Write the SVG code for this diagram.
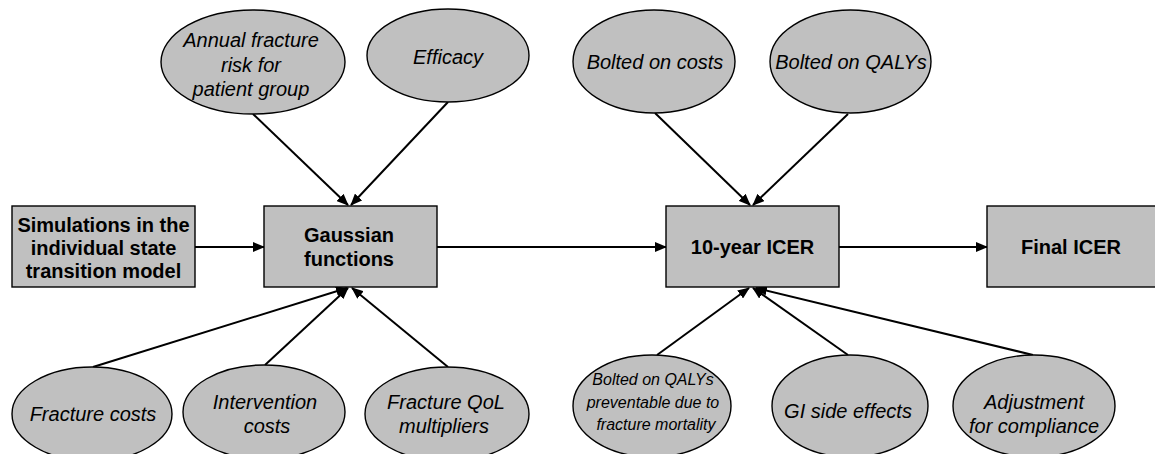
<svg xmlns="http://www.w3.org/2000/svg" width="1155" height="454" viewBox="0 0 1155 454">
<style>
.n{fill:#c0c0c0;stroke:#000;stroke-width:1.4}
.t{font-family:"Liberation Sans",Arial,sans-serif;font-size:20px;font-style:italic;fill:#000;text-anchor:middle}
.s{font-size:16px}
.b{font-family:"Liberation Sans",Arial,sans-serif;font-size:20px;font-weight:bold;fill:#000;text-anchor:middle}
.c{stroke:#000;stroke-width:2;fill:none;marker-end:url(#ah)}
</style>
<defs>
<marker id="ah" markerUnits="userSpaceOnUse" markerWidth="12" markerHeight="10" refX="11" refY="5" orient="auto">
<path d="M0,0 L12,5 L0,10 z" fill="#000"/>
</marker>
</defs>
<rect width="1155" height="454" fill="#fff"/>
<g id="connectors">
<line class="c" x1="253" y1="114" x2="348" y2="205"/>
<line class="c" x1="448" y1="102" x2="351" y2="205"/>
<line class="c" x1="93" y1="367" x2="347" y2="288"/>
<line class="c" x1="265" y1="365" x2="348" y2="288"/>
<line class="c" x1="448" y1="367" x2="352" y2="288"/>
<line class="c" x1="195" y1="247" x2="264" y2="247"/>
<line class="c" x1="437" y1="247" x2="666" y2="247"/>
<line class="c" x1="839" y1="247" x2="987" y2="247"/>
<line class="c" x1="655" y1="113" x2="750" y2="205"/>
<line class="c" x1="848" y1="114" x2="753" y2="205"/>
<line class="c" x1="657" y1="355" x2="749" y2="288"/>
<line class="c" x1="848" y1="355" x2="753" y2="288"/>
<line class="c" x1="1033" y1="355" x2="756" y2="288"/>
</g>
<g id="annual"><ellipse class="n" cx="253" cy="62" rx="92" ry="52"/>
<text class="t" x="251" y="47">Annual fracture</text><text class="t" x="251" y="72">risk for</text><text class="t" x="251" y="96">patient group</text></g>
<g id="efficacy"><ellipse class="n" cx="448" cy="55.5" rx="81" ry="46.5"/><text class="t" x="448" y="64">Efficacy</text></g>
<g id="bolted-costs"><ellipse class="n" cx="654" cy="61.5" rx="81" ry="51.5"/><text class="t" x="655" y="69">Bolted on costs</text></g>
<g id="bolted-qalys"><ellipse class="n" cx="850.5" cy="61.5" rx="80.5" ry="51.5"/><text class="t" x="851" y="69">Bolted on QALYs</text></g>
<g id="simulations"><rect class="n" x="12" y="206" width="183" height="81"/>
<text class="b" x="103.5" y="232">Simulations in the</text><text class="b" x="103.5" y="255">individual state</text><text class="b" x="103.5" y="278">transition model</text></g>
<g id="gaussian"><rect class="n" x="264" y="206" width="173" height="81"/>
<text class="b" x="349" y="242">Gaussian</text><text class="b" x="349" y="266">functions</text></g>
<g id="icer10"><rect class="n" x="666" y="206" width="173" height="81"/><text class="b" x="752.5" y="254">10-year ICER</text></g>
<g id="final"><rect class="n" x="987" y="206" width="172" height="81"/><text class="b" x="1071" y="254">Final ICER</text></g>
<g id="fracture-costs"><ellipse class="n" cx="92" cy="414" rx="80" ry="47"/><text class="t" x="93" y="421">Fracture costs</text></g>
<g id="intervention"><ellipse class="n" cx="264" cy="412" rx="81" ry="47"/><text class="t" x="265" y="409">Intervention</text><text class="t" x="267" y="433">costs</text></g>
<g id="qol"><ellipse class="n" cx="447" cy="414" rx="82" ry="47"/><text class="t" x="446" y="409">Fracture QoL</text><text class="t" x="444" y="433">multipliers</text></g>
<g id="preventable"><ellipse class="n" cx="652" cy="406" rx="79" ry="51"/>
<text class="t s" x="653" y="385">Bolted on QALYs</text><text class="t s" x="653" y="408">preventable due to</text><text class="t s" x="656" y="430">fracture mortality</text></g>
<g id="gi"><ellipse class="n" cx="850" cy="406" rx="78" ry="51"/><text class="t" x="848" y="418">GI side effects</text></g>
<g id="compliance"><ellipse class="n" cx="1034" cy="406" rx="81" ry="51"/><text class="t" x="1034" y="409">Adjustment</text><text class="t" x="1034" y="433">for compliance</text></g>
</svg>
